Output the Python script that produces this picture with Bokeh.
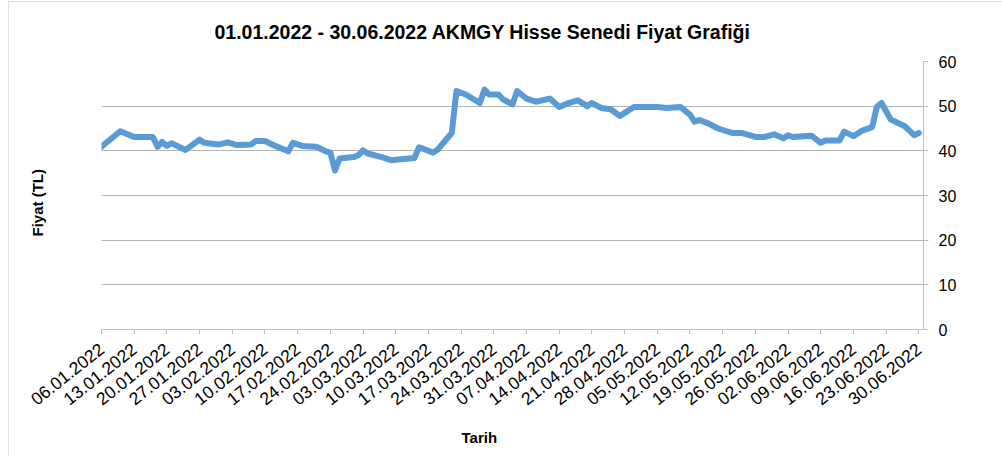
import math
from datetime import datetime, timedelta
from bokeh.plotting import figure
from bokeh.models import (Range1d, FixedTicker, DatetimeTickFormatter, Title,
                          ColumnDataSource, LinearAxis)
from bokeh.embed import file_html
from bokeh.resources import INLINE

title_text = "01.01.2022 - 30.06.2022 AKMGY Hisse Senedi Fiyat Grafiği"
x_label = "Tarih"
y_label = "Fiyat (TL)"

dates = [
    "2022-01-06", "2022-01-10", "2022-01-13", "2022-01-17", "2022-01-18",
    "2022-01-19", "2022-01-20", "2022-01-21", "2022-01-24", "2022-01-27",
    "2022-01-28", "2022-01-31", "2022-02-02", "2022-02-04", "2022-02-07",
    "2022-02-08", "2022-02-10", "2022-02-12", "2022-02-15", "2022-02-16",
    "2022-02-18", "2022-02-21", "2022-02-23", "2022-02-24", "2022-02-25",
    "2022-02-26", "2022-03-01", "2022-03-02", "2022-03-03", "2022-03-04",
    "2022-03-07", "2022-03-09", "2022-03-11", "2022-03-14", "2022-03-15",
    "2022-03-18", "2022-03-19", "2022-03-22", "2022-03-23", "2022-03-25",
    "2022-03-28", "2022-03-29", "2022-03-30", "2022-04-01", "2022-04-02",
    "2022-04-04", "2022-04-05", "2022-04-07", "2022-04-09", "2022-04-12",
    "2022-04-14", "2022-04-16", "2022-04-18", "2022-04-20", "2022-04-21",
    "2022-04-23", "2022-04-25", "2022-04-27", "2022-04-30", "2022-05-05",
    "2022-05-07", "2022-05-10", "2022-05-12", "2022-05-13", "2022-05-14",
    "2022-05-16", "2022-05-18", "2022-05-21", "2022-05-23", "2022-05-26",
    "2022-05-28", "2022-05-30", "2022-06-01", "2022-06-02", "2022-06-03",
    "2022-06-07", "2022-06-09", "2022-06-10", "2022-06-13", "2022-06-14",
    "2022-06-16", "2022-06-18", "2022-06-20", "2022-06-21", "2022-06-22",
    "2022-06-24", "2022-06-27", "2022-06-29", "2022-06-30",
]
prices = [
    40.9, 44.4, 43.1, 43.1, 40.9,
    42.0, 41.1, 41.7, 40.2, 42.5,
    41.8, 41.4, 41.9, 41.3, 41.4,
    42.2, 42.2, 41.2, 39.9, 41.8,
    41.1, 40.9, 39.9, 39.6, 35.6,
    38.3, 38.6, 39.0, 40.1, 39.4,
    38.6, 37.9, 38.1, 38.4, 40.8,
    39.6, 40.3, 44.0, 53.4, 52.6,
    50.7, 53.7, 52.6, 52.6, 51.5,
    50.4, 53.4, 51.7, 51.0, 51.7,
    49.8, 50.7, 51.3, 50.0, 50.7,
    49.6, 49.3, 47.8, 49.8, 49.8,
    49.6, 49.8, 48.1, 46.5, 46.9,
    46.1, 45.0, 44.0, 44.0, 43.1,
    43.1, 43.7, 42.8, 43.5, 43.1,
    43.4, 41.8, 42.3, 42.3, 44.3,
    43.3, 44.6, 45.3, 49.8, 50.7,
    47.0, 45.5, 43.5, 44.0,
]
tick_dates = [
    "2022-01-06", "2022-01-13", "2022-01-20", "2022-01-27", "2022-02-03",
    "2022-02-10", "2022-02-17", "2022-02-24", "2022-03-03", "2022-03-10",
    "2022-03-17", "2022-03-24", "2022-03-31", "2022-04-07", "2022-04-14",
    "2022-04-21", "2022-04-28", "2022-05-05", "2022-05-12", "2022-05-19",
    "2022-05-26", "2022-06-02", "2022-06-09", "2022-06-16", "2022-06-23",
    "2022-06-30",
]
y_ticks = [0, 10, 20, 30, 40, 50, 60]

def ms(s):
    d = datetime.strptime(s, "%Y-%m-%d")
    return (d - datetime(1970, 1, 1)).total_seconds() * 1000.0

xs = [datetime.strptime(d, "%Y-%m-%d") for d in dates]
src = ColumnDataSource(data=dict(x=xs, y=prices))

x_start = datetime(2022, 1, 6)
x_end = datetime(2022, 1, 6) + timedelta(days=176)

p = figure(width=994, height=456, output_backend="svg", toolbar_location=None,
           x_axis_type="datetime", y_axis_location="right",
           x_range=Range1d(x_start, x_end), y_range=Range1d(0, 60),
           min_border_left=93, min_border_right=79, min_border_top=10,
           min_border_bottom=10, margin=(1, 0, 0, 8),
           styles={"outline": "2px solid #d9d9d9", "outline-offset": "-2px"})
p.outline_line_color = None
p.background_fill_color = "white"
p.border_fill_color = "white"

p.line("x", "y", source=src, line_color="#5b9bd5", line_width=6,
       line_join="round", line_cap="round")

# x axis
xa = p.xaxis[0]
xa.ticker = FixedTicker(ticks=[ms(t) for t in tick_dates])
xa.formatter = DatetimeTickFormatter(days="%d.%m.%Y", months="%d.%m.%Y",
                                     years="%d.%m.%Y", hours="%d.%m.%Y")
xa.major_label_orientation = 0.67
xa.major_label_text_font = "Liberation Sans"
xa.major_label_text_font_size = "17.5px"
xa.major_label_text_color = "#000000"
xa.major_tick_out = 5
xa.major_tick_in = 0
xa.minor_tick_out = 0
xa.minor_tick_in = 0
xa.axis_line_color = "#bfbfbf"
xa.major_tick_line_color = "#bfbfbf"
xa.major_label_standoff = 12

ya = p.yaxis[0]
ya.ticker = FixedTicker(ticks=y_ticks)
ya.major_label_text_font = "Liberation Sans"
ya.major_label_text_font_size = "16px"
ya.major_label_text_color = "#000000"
ya.major_tick_out = 5
ya.major_tick_in = 0
ya.minor_tick_out = 0
ya.minor_tick_in = 0
ya.axis_line_color = "#bfbfbf"
ya.major_tick_line_color = "#bfbfbf"
ya.major_label_standoff = 10

p.xgrid.grid_line_color = None
p.ygrid.grid_line_color = "#b3b3b3"
p.ygrid.grid_line_width = 1

p.title = Title(text=title_text, align="left", offset=113,
                vertical_align="middle",
                text_font="Liberation Sans", text_font_style="bold",
                text_font_size="19.5px", text_color="#000000", standoff=36)
p.add_layout(Title(text=x_label, align="left", offset=360,
                   text_font="Liberation Sans", text_font_style="bold",
                   text_font_size="15px", text_color="#000000", standoff=24),
             "below")

# invisible spacer axis between the y label and the frame
spacer = LinearAxis(ticker=FixedTicker(ticks=[30]), axis_line_color=None,
                    major_tick_line_color=None, minor_tick_line_color=None,
                    major_tick_out=36, major_tick_in=0, minor_tick_out=0,
                    major_label_standoff=0,
                    major_label_overrides={30: ""})
p.add_layout(spacer, "left")
p.add_layout(Title(text=y_label, align="left", offset=93,
                   vertical_align="middle",
                   text_font="Liberation Sans", text_font_style="bold",
                   text_font_size="15px", text_color="#000000", standoff=38),
             "left")

open("out.html", "w").write(file_html(p, INLINE))
